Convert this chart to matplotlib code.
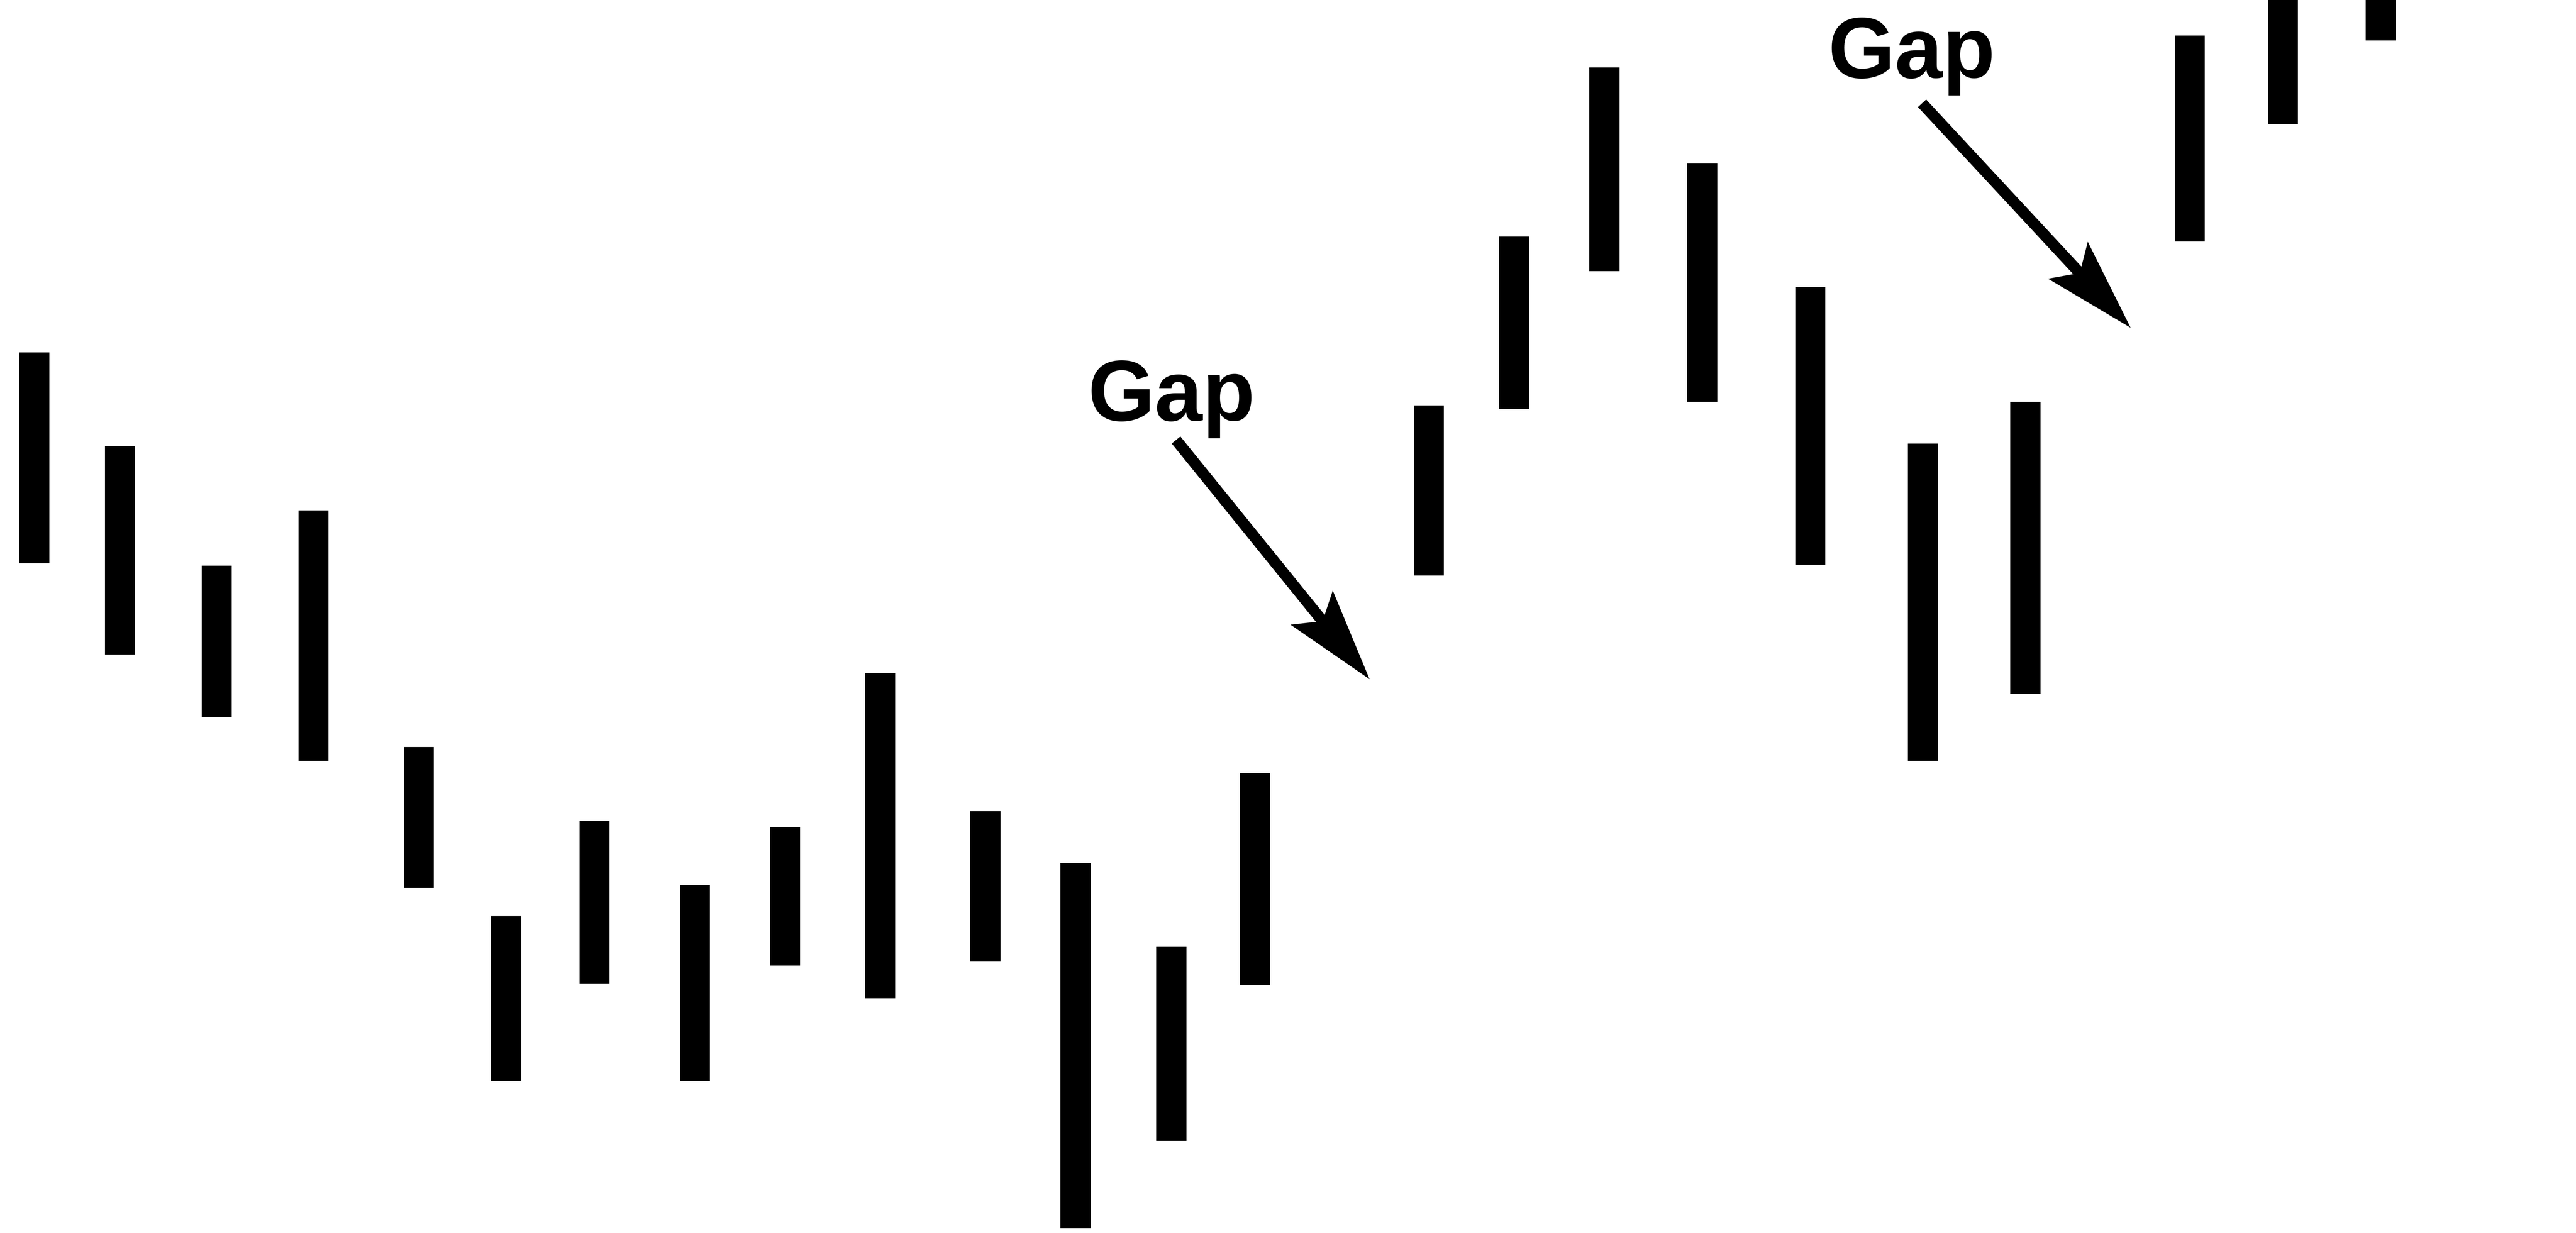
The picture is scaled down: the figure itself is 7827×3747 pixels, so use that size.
import numpy as np
import matplotlib.pyplot as plt
from matplotlib.patches import FancyArrow

# high / low bar chart with two upside gaps
day = [0.00, 0.91, 1.94, 2.97, 4.09, 5.02, 5.96, 7.03, 7.99, 9.00, 10.12, 11.08,
       12.10, 12.99, 14.84, 15.75, 16.71, 17.75, 18.90, 20.10, 21.19, 22.94, 23.93, 24.97]
high = [71.4, 63.8, 54.1, 58.6, 39.4, 25.7, 33.4, 28.2, 32.9, 45.4, 34.2, 30.0,
        23.2, 37.3, 67.1, 80.8, 94.5, 86.7, 76.7, 64.0, 67.4, 97.1, 102.0, 103.0]
low = [54.3, 46.9, 41.8, 38.3, 28.0, 12.3, 20.2, 12.3, 21.7, 19.0, 22.0, 0.4,
       7.5, 20.1, 53.3, 66.8, 78.0, 67.4, 54.2, 38.3, 43.7, 80.4, 89.9, 96.7]

gap_labels = ["Gap", "Gap"]

high = np.array(high)
low = np.array(low)

fig = plt.figure(figsize=(78.27, 37.48), dpi=100, facecolor="white")
ax = fig.add_axes([0, 0, 1, 1])
ax.axis("off")

ax.bar(day, high - low, bottom=low, width=0.32, color="black", linewidth=0)

ax.set_xlim(-0.367, 27.05)
ax.set_ylim(0, 100)

# label anchor (left, baseline), arrow tail and tip, in chart units
text_xy = [(11.21, 65.9), (19.09, 93.7)]
tails = [(12.15, 64.3), (20.09, 91.6)]
tips = [(14.21, 44.9), (22.31, 73.4)]

to_inch = ax.transData + fig.dpi_scale_trans.inverted()
for lab, (tx, ty), t0, t1 in zip(gap_labels, text_xy, tails, tips):
    ax.text(tx, ty, lab, ha="left", va="baseline", fontsize=188,
            fontweight="bold", family=["Liberation Sans", "DejaVu Sans"],
            color="black")
    x0, y0 = to_inch.transform(t0)
    x1, y1 = to_inch.transform(t1)
    arr = FancyArrow(x0, y0, x1 - x0, y1 - y0, width=0.34, head_width=1.65,
                     head_length=2.8, overhang=0.15, length_includes_head=True,
                     transform=fig.dpi_scale_trans, color="black", linewidth=0)
    fig.add_artist(arr)

fig.savefig("out.png", dpi=100, facecolor="white")
plt.close(fig)
